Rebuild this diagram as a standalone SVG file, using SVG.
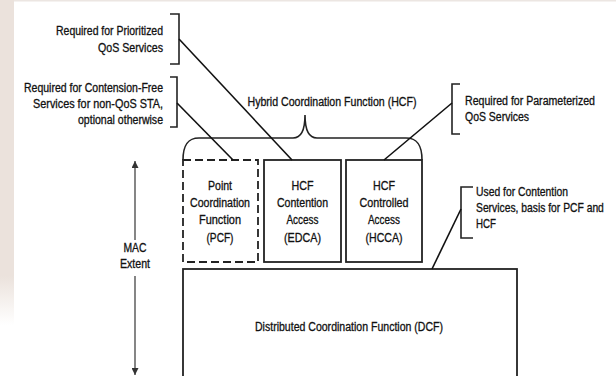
<svg xmlns="http://www.w3.org/2000/svg" width="616" height="376" viewBox="0 0 616 376">
  <defs>
    <linearGradient id="edgeFade" x1="0" y1="0" x2="0" y2="1">
      <stop offset="0" stop-color="#ebe2dc"/>
      <stop offset="0.85" stop-color="#ebe2dc"/>
      <stop offset="1" stop-color="#ffffff"/>
    </linearGradient>
    <marker id="tip" viewBox="0 0 10 10" refX="10" refY="5" markerWidth="10" markerHeight="7" markerUnits="userSpaceOnUse" orient="auto-start-reverse">
      <path d="M0,0 L10,5 L0,10 Z" fill="#333"/>
    </marker>
    <style>
      text { font-family: "Liberation Sans", Arial, sans-serif; font-size: 12px; fill: #111; stroke: #111; stroke-width: 0.3; }
      .mid { text-anchor: middle; }
      .end { text-anchor: end; }
      .box { fill: #fff; stroke: #222; stroke-width: 1.8; }
      .dash { stroke-dasharray: 8 4; }
      .bracket { fill: none; stroke: #222; stroke-width: 1.6; }
      .link { fill: none; stroke: #111; stroke-width: 1.6; }
      .extent { stroke: #444; stroke-width: 1.3; }
    </style>
  </defs>

  <!-- page background -->
  <rect x="0" y="0" width="616" height="376" fill="#fff"/>
  <rect x="0" y="0" width="14" height="325" fill="url(#edgeFade)"/>
  <rect x="14" y="0" width="602" height="1.5" fill="#ece6e2"/>

  <!-- Hybrid Coordination Function brace and title -->
  <g id="hcf">
    <text class="mid" x="332" y="106" textLength="169" lengthAdjust="spacingAndGlyphs">Hybrid Coordination Function (HCF)</text>
    <path class="bracket" d="M183,160 C183,146 187,138 199,138 L293,138 C301,138 305,130 305,115 C305,130 309,138 317,138 L406,138 C418,138 422,146 422,160"/>
  </g>

  <g id="pcf">
    <rect class="box dash" x="183" y="160" width="75" height="102"/>
    <text class="mid" x="220" y="190" textLength="24" lengthAdjust="spacingAndGlyphs">Point</text>
    <text class="mid" x="220" y="207" textLength="60" lengthAdjust="spacingAndGlyphs">Coordination</text>
    <text class="mid" x="220" y="224" textLength="42" lengthAdjust="spacingAndGlyphs">Function</text>
    <text class="mid" x="220" y="242" textLength="27" lengthAdjust="spacingAndGlyphs">(PCF)</text>
  </g>

  <g id="edca">
    <rect class="box" x="264" y="160" width="77" height="102"/>
    <text class="mid" x="302.5" y="190" textLength="22" lengthAdjust="spacingAndGlyphs">HCF</text>
    <text class="mid" x="302.5" y="207" textLength="51" lengthAdjust="spacingAndGlyphs">Contention</text>
    <text class="mid" x="302.5" y="224" textLength="32" lengthAdjust="spacingAndGlyphs">Access</text>
    <text class="mid" x="302.5" y="242" textLength="37" lengthAdjust="spacingAndGlyphs">(EDCA)</text>
  </g>

  <g id="hcca">
    <rect class="box" x="346" y="160" width="76" height="102"/>
    <text class="mid" x="384" y="190" textLength="22" lengthAdjust="spacingAndGlyphs">HCF</text>
    <text class="mid" x="384" y="207" textLength="49" lengthAdjust="spacingAndGlyphs">Controlled</text>
    <text class="mid" x="384" y="224" textLength="32" lengthAdjust="spacingAndGlyphs">Access</text>
    <text class="mid" x="384" y="242" textLength="37" lengthAdjust="spacingAndGlyphs">(HCCA)</text>
  </g>

  <g id="dcf">
    <rect class="box" x="183" y="269" width="334" height="120"/>
    <text class="mid" x="349" y="331" textLength="188" lengthAdjust="spacingAndGlyphs">Distributed Coordination Function (DCF)</text>
  </g>

  <!-- annotations with their brackets -->
  <g id="note-prioritized">
    <text class="end" x="163" y="35" textLength="107" lengthAdjust="spacingAndGlyphs">Required for Prioritized</text>
    <text class="end" x="163" y="52" textLength="65" lengthAdjust="spacingAndGlyphs">QoS Services</text>
    <path class="bracket" d="M170,14 H179 V64 H170"/>
  </g>

  <g id="note-contention-free">
    <text class="end" x="163" y="92" textLength="139" lengthAdjust="spacingAndGlyphs">Required for Contension-Free</text>
    <text class="end" x="163" y="108" textLength="130" lengthAdjust="spacingAndGlyphs">Services for non-QoS STA,</text>
    <text class="end" x="163" y="124" textLength="85" lengthAdjust="spacingAndGlyphs">optional otherwise</text>
    <path class="bracket" d="M170,77 H177 V127 H170"/>
  </g>

  <g id="note-parameterized">
    <path class="bracket" d="M460,84 H452 V134 H460"/>
    <text x="465" y="105" textLength="130" lengthAdjust="spacingAndGlyphs">Required for Parameterized</text>
    <text x="465" y="121" textLength="64" lengthAdjust="spacingAndGlyphs">QoS Services</text>
  </g>

  <g id="note-contention">
    <path class="bracket" d="M473,187 H461 V238 H473"/>
    <text x="476" y="196" textLength="92" lengthAdjust="spacingAndGlyphs">Used for Contention</text>
    <text transform="translate(476,212) scale(0.86,1)" x="0" y="0">Services, basis for PCF and</text>
    <text x="476" y="228" textLength="20" lengthAdjust="spacingAndGlyphs">HCF</text>
  </g>

  <g id="mac-extent">
    <line class="extent" x1="135" y1="240" x2="135" y2="161" marker-end="url(#tip)"/>
    <line class="extent" x1="135" y1="276" x2="135" y2="375" marker-end="url(#tip)"/>
    <text class="mid" x="135" y="252" textLength="23" lengthAdjust="spacingAndGlyphs">MAC</text>
    <text class="mid" x="135" y="268" textLength="30" lengthAdjust="spacingAndGlyphs">Extent</text>
  </g>

  <!-- leader lines from annotations to the functions -->
  <g id="connectors">
    <line class="link" x1="179" y1="39" x2="292" y2="160"/>
    <line class="link" x1="177" y1="103" x2="233" y2="160"/>
    <line class="link" x1="452" y1="103" x2="384" y2="160"/>
    <line class="link" x1="461" y1="209" x2="432" y2="269"/>
  </g>
</svg>
